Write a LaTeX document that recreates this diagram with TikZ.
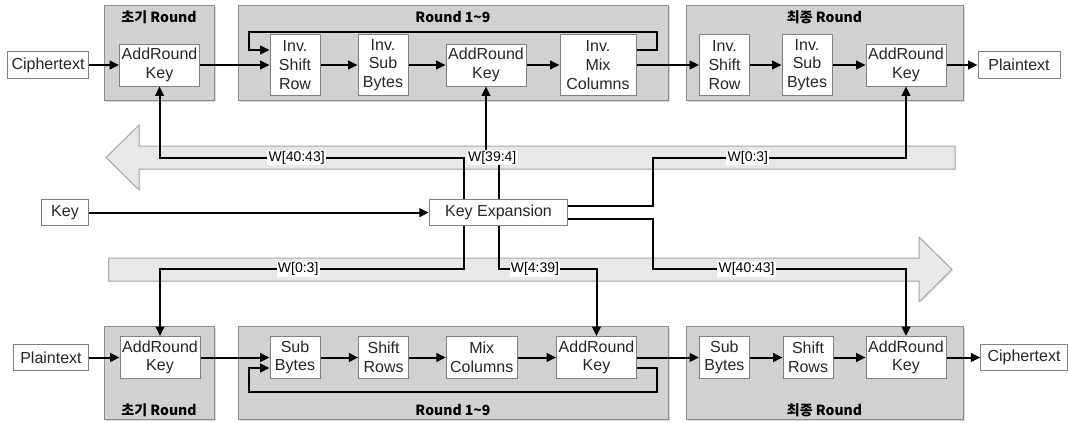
\documentclass[tikz,border=0pt]{standalone}
\usepackage{fontspec}
\setmainfont{Liberation Sans}
\newfontfamily\krfont{Noto Sans CJK KR}
\usetikzlibrary{arrows.meta, shadows, positioning}
\tikzset{
  box/.style={draw=black!50, line width=0.75pt, fill=white, align=center,
    inner sep=1pt, text=black!85, font=\fontsize{12}{14}\selectfont},
  ark/.style={box, minimum width=60pt, minimum height=31.5pt},   % AddRound Key
  tall/.style={box, minimum width=37.5pt, minimum height=45.75pt}, % three lines
  short/.style={box, minimum width=37.5pt, minimum height=31.2pt}, % two lines
  io/.style={box, minimum height=20pt},
  grp/.style={draw=black!45, line width=0.75pt, fill=black!18,
    drop shadow={shadow xshift=1.5pt, shadow yshift=-1.5pt, opacity=0.3}},
  grptitle/.style={font=\krfont\bfseries\fontsize{10.5}{12}\selectfont, inner sep=0pt},
  band/.style={draw=black!35, line width=0.75pt, fill=black!9,
    drop shadow={shadow xshift=1pt, shadow yshift=-1pt, opacity=0.15}},
  wire/.style={line width=1.5pt, -{Triangle[length=7pt,width=6.5pt]}},
  wlab/.style={fill=white, inner sep=1pt, font=\fontsize{10.5}{12}\selectfont}
}

\begin{document}
\begin{tikzpicture}[x=0.75pt, y=-0.75pt]
    \useasboundingbox (0,0) rectangle (1069,422);

    % big arrows for the key words
    \draw[band] (955,146) -- (139,146) -- (139,125) -- (106,157.5)
      -- (139,190) -- (139,169) -- (955,169) -- cycle; % to decryption
    \draw[band] (108.5,258) -- (919,258) -- (919,237) -- (952,269.5)
      -- (919,302) -- (919,281) -- (108.5,281) -- cycle; % to encryption

    % decryption rounds (top)
    \node[grp, minimum width=82.5pt, minimum height=71.25pt] (dinit) at (159,52.5) {};
    \node[grp, minimum width=322.5pt, minimum height=71.25pt] (dround) at (453,52.5) {};
    \node[grp, minimum width=207.75pt, minimum height=71.25pt] (dlast) at (824.5,52.5) {};
    \node[grptitle] (dinitT) at (159,17) {초기 Round};
    \node[grptitle] (droundT) at (453,17) {Round 1\textasciitilde9};
    \node[grptitle] (dlastT) at (824.5,17) {최종 Round};

    \node[io, minimum width=60.75pt] (cipherT) at (48,65) {Ciphertext};
    \node[ark] (ark0) at (159.5,65) {AddRound\\Key};
    \node[tall] (isr1) at (295,65) {Inv.\\Shift\\Row};
    \node[tall] (isb1) at (383,65) {Inv.\\Sub\\Bytes};
    \node[ark] (ark1) at (486,65) {AddRound\\Key};
    \node[tall, minimum width=57pt] (imc1) at (598,65) {Inv.\\Mix\\Columns};
    \node[tall] (isr2) at (724.5,65) {Inv.\\Shift\\Row};
    \node[tall] (isb2) at (807,65) {Inv.\\Sub\\Bytes};
    \node[ark] (ark2) at (906,65) {AddRound\\Key};
    \node[io, minimum width=61.5pt] (plainT) at (1019,65) {Plaintext};

    % encryption rounds (bottom)
    \node[grp, minimum width=82.5pt, minimum height=69.75pt] (einit) at (159,372.5) {};
    \node[grp, minimum width=322.5pt, minimum height=69.75pt] (eround) at (453,372.5) {};
    \node[grp, minimum width=207.75pt, minimum height=69.75pt] (elast) at (824.5,372.5) {};
    \node[grptitle] (einitT) at (159,410) {초기 Round};
    \node[grptitle] (eroundT) at (453,410) {Round 1\textasciitilde9};
    \node[grptitle] (elastT) at (824.5,410) {최종 Round};

    \node[io, minimum width=56pt] (plainB) at (51,357.5) {Plaintext};
    \node[ark] (ark0b) at (160,357.5) {AddRound\\Key};
    \node[short] (sb1) at (295,357.5) {Sub\\Bytes};
    \node[short] (sr1) at (383.6,357.5) {Shift\\Rows};
    \node[short, minimum width=53.25pt] (mc1) at (481.7,357.5) {Mix\\Columns};
    \node[ark] (ark1b) at (596.5,357.5) {AddRound\\Key};
    \node[short] (sb2) at (724.4,357.5) {Sub\\Bytes};
    \node[short] (sr2) at (808,357.5) {Shift\\Rows};
    \node[ark] (ark2b) at (906,357.5) {AddRound\\Key};
    \node[io, minimum width=65pt] (cipherB) at (1024,357.5) {Ciphertext};

    % key schedule
    \node[io, minimum width=35.6pt] (key) at (65,212.6) {Key};
    \node[io, minimum width=104pt] (kexp) at (498.5,212.6) {Key Expansion};

    % data path, top
    \draw[wire] (cipherT) -- (ark0);
    \draw[wire] (ark0) -- (isr1);
    \draw[wire] (isr1) -- (isb1);
    \draw[wire] (isb1) -- (ark1);
    \draw[wire] (ark1) -- (imc1);
    \draw[wire] (imc1) -- (isr2);
    \draw[wire] (isr2) -- (isb2);
    \draw[wire] (isb2) -- (ark2);
    \draw[wire] (ark2) -- (plainT);
    \draw[wire] (imc1.east |- 0,50) -| (657,32) -| (249,50) -- (isr1.west |- 0,50); % loop

    % data path, bottom
    \draw[wire] (plainB) -- (ark0b);
    \draw[wire] (ark0b) -- (sb1);
    \draw[wire] (sb1) -- (sr1);
    \draw[wire] (sr1) -- (mc1);
    \draw[wire] (mc1) -- (ark1b);
    \draw[wire] (ark1b) -- (sb2);
    \draw[wire] (sb2) -- (sr2);
    \draw[wire] (sr2) -- (ark2b);
    \draw[wire] (ark2b) -- (cipherB);
    \draw[wire] (ark1b.east |- 0,368) -| (657,392) -| (249,368) -- (sb1.west |- 0,368); % loop

    % round keys
    \draw[wire] (key) -- (kexp);
    \draw[wire] (kexp.north -| 464.3,0) |- (159.5,157.5) node[wlab, pos=0.775] {W[40:43]} -- (ark0.south);
    \draw[wire] (kexp.north) |- (486,157.5) node[wlab, pos=0.75] {W[39:4]} -- (ark1.south);
    \draw[wire] ([yshift=5pt]kexp.east) -| (653,157.5) -- (906,157.5) node[wlab, pos=0.375] {W[0:3]} -- (ark2.south);
    \draw[wire] ([yshift=-5pt]kexp.east) -| (653,269) -- (906,269) node[wlab, pos=0.37] {W[40:43]} -- (ark2b.north);
    \draw[wire] (kexp.south -| 464.3,0) |- (160,269) node[wlab, pos=0.773] {W[0:3]} -- (ark0b.north);
    \draw[wire] (kexp.south) |- (596.5,269) node[wlab, pos=0.686] {W[4:39]} -- (ark1b.north);
\end{tikzpicture}
\end{document}
